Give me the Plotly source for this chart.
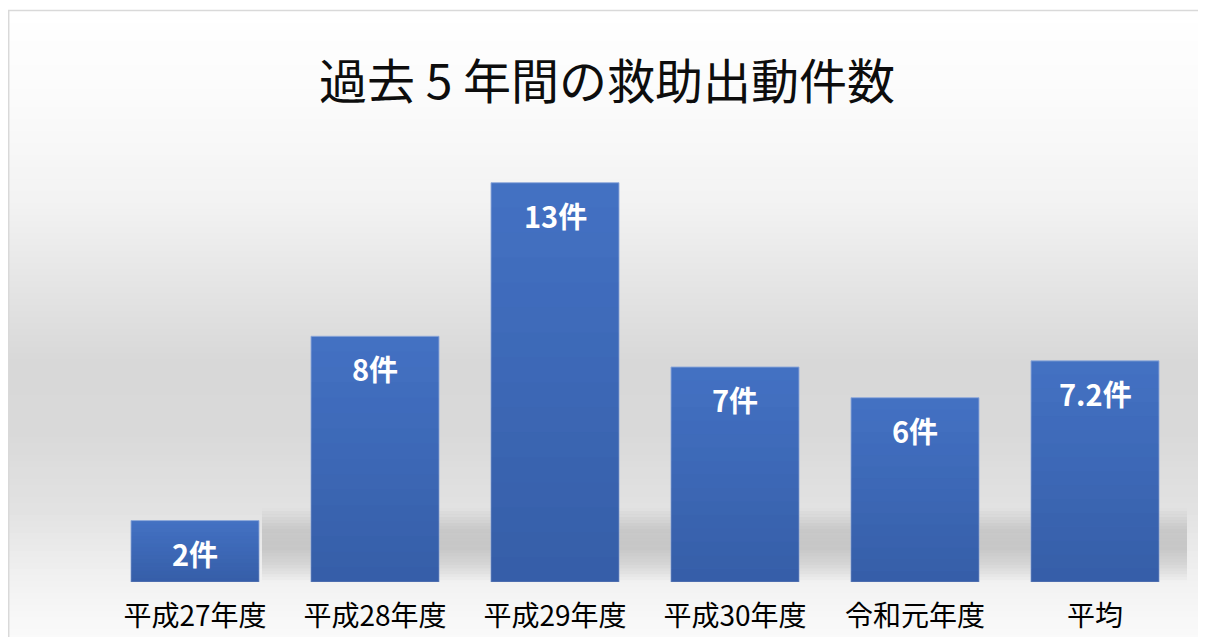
import plotly.graph_objects as go

# ---- data ----
categories = ["平成27年度", "平成28年度", "平成29年度", "平成30年度", "令和元年度", "平均"]
values = [2, 8, 13, 7, 6, 7.2]
unit = "件"
title_text = "過去 5 年間の救助出動件数"

OFF = 8  # page body margin
W, H = 1206 - OFF, 637 - OFF
ML, MR, MT, MB = 97, 21, 144, 55
PW = W - ML - MR
PH = H - MT - MB
BARGAP = 0.289
FONT = "Noto Sans CJK JP"


def px_x(p):  # page pixel -> paper fraction
    return (p - OFF - ML) / PW


def px_y(p):
    return (H - MB - (p - OFF)) / PH


def lerp_stops(stops, y):
    for (y0, c0), (y1, c1) in zip(stops, stops[1:]):
        if y0 <= y <= y1:
            t = (y - y0) / (y1 - y0)
            return c0 + (c1 - c0) * t
    return stops[-1][1]


shapes = []

# background vertical gradient (chart area), page coordinates
bg_stops = [(10, 255), (100, 251), (200, 243), (300, 226), (360, 216),
            (430, 217), (510, 226), (582, 242), (637, 250)]
y = 11.0
step = 6.0
while y < 640:
    g = int(round(lerp_stops(bg_stops, y + step / 2)))
    shapes.append(dict(type="rect", xref="paper", yref="paper", layer="below",
                       x0=px_x(9), x1=px_x(1210), y0=px_y(min(y + step + 0.6, 645)), y1=px_y(y),
                       fillcolor=f"rgb({g},{g},{g})", line=dict(width=0)))
    y += step

# floor shadow band behind bars
sh_stops = [(508, 0.0), (530, 0.13), (548, 0.15), (562, 0.11), (574, 0.05), (582, 0.0)]
y = 508.0
step = 3.0
while y < 582:
    a = lerp_stops(sh_stops, y + step / 2)
    shapes.append(dict(type="rect", xref="paper", yref="paper", layer="below",
                       x0=px_x(262), x1=px_x(1187), y0=px_y(y + step), y1=px_y(y),
                       fillcolor=f"rgba(0,0,0,{a:.3f})", line=dict(width=0)))
    y += step

# frame border
shapes.append(dict(type="line", xref="paper", yref="paper", x0=px_x(8), x1=px_x(1212),
                   y0=px_y(10.5), y1=px_y(10.5), line=dict(color="#d9d9d9", width=1.5)))
shapes.append(dict(type="line", xref="paper", yref="paper", x0=px_x(8.7), x1=px_x(8.7),
                   y0=px_y(10), y1=px_y(645), line=dict(color="#d9d9d9", width=1.5)))

# vertical gradient overlay on bars (derived from data)
bw = 1 - BARGAP
N = 16
for i, v in enumerate(values):
    for k in range(N):
        a = 0.37 * (1 - (k + 0.5) / N)
        shapes.append(dict(type="rect", xref="x", yref="y", layer="above",
                           x0=i - bw / 2, x1=i + bw / 2, y0=v * k / N, y1=v * (k + 1) / N,
                           fillcolor=f"rgba(30,60,120,{a:.3f})", line=dict(width=0)))

fig = go.Figure()
fig.add_trace(go.Bar(
    x=categories, y=values,
    marker=dict(color="#4472C4", line=dict(color="rgba(143,170,220,0.9)", width=1)),
    hoverinfo="skip",
))

annotations = []
for c, v in zip(categories, values):
    annotations.append(dict(x=c, y=v, xref="x", yref="y", text=f"{v:g}{unit}",
                            showarrow=False, yanchor="middle", yshift=-32,
                            font=dict(family=FONT, size=29, color="white", weight="bold")))

fig.update_layout(
    width=W, height=H, autosize=False,
    margin=dict(l=ML, r=MR, t=MT, b=MB),
    paper_bgcolor="white", plot_bgcolor="rgba(0,0,0,0)",
    bargap=BARGAP, showlegend=False,
    font=dict(family=FONT, color="#000000"),
    title=dict(text=title_text, x=(607 - OFF) / W, xanchor="center", y=1 - (82 - OFF) / H,
               yanchor="middle", yref="container",
               font=dict(family=FONT, size=48, color="#0d0d0d")),
    xaxis=dict(showgrid=False, zeroline=False, showline=False, ticks="", automargin=False,
               tickfont=dict(family=FONT, size=28, color="#000000"), ticklabelstandoff=15),
    yaxis=dict(range=[0, 14], visible=False, showgrid=False, zeroline=False, automargin=False),
    shapes=shapes, annotations=annotations,
)

fig.write_html("out.html")
